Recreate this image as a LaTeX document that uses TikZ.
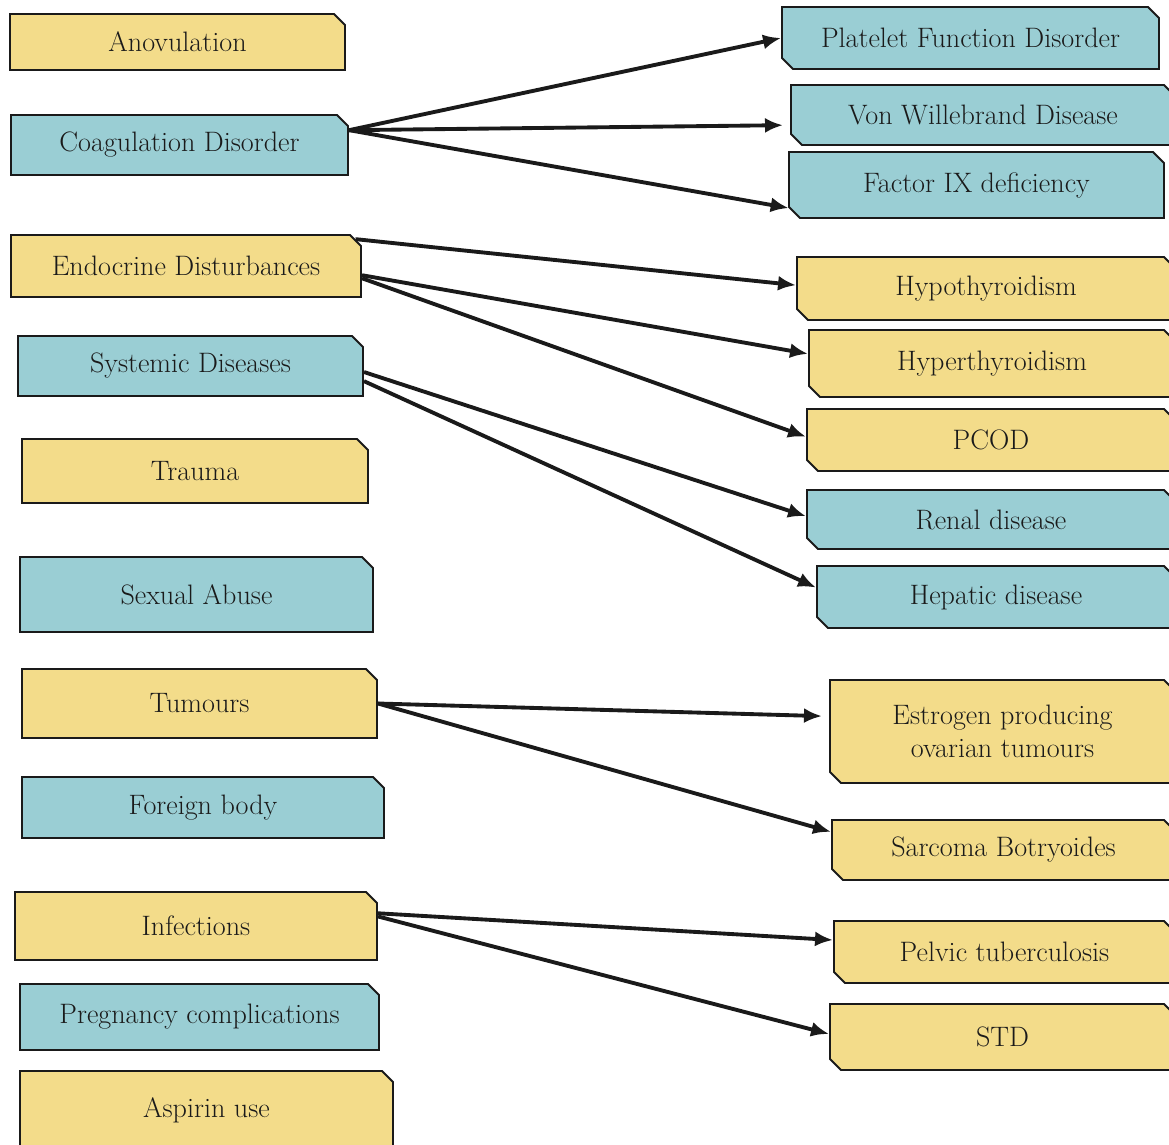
\documentclass[tikz,border=0pt]{standalone}
\usepackage{tikz}
\usetikzlibrary{arrows.meta,shapes.misc}
\definecolor{sand}{HTML}{F3DC8A}
\definecolor{seafoam}{HTML}{9ACED4}
\definecolor{ink}{HTML}{1A1A1A}

\begin{document}
\begin{tikzpicture}[
    x=0.02cm, y=-0.02cm,
    >={Latex[length=0.36cm,width=0.3cm]},
    font=\fontsize{16}{19}\selectfont,
    cause/.style={
		chamfered rectangle,
		chamfered rectangle corners={north east},
		chamfered rectangle xsep=0.11cm,
		chamfered rectangle ysep=0.11cm,
		draw=ink,
		line width=1.1pt,
		text=ink,
		inner sep=0pt,
		align=center
	},
	subcause/.style={
		cause,
		chamfered rectangle corners={north east,south west}
	},
	warm/.style={fill=sand},
	cool/.style={fill=seafoam},
	link/.style={->, draw=ink, line width=2.2pt}
  ]
  \useasboundingbox (0,0) rectangle (1169,1145);

    % We start by placing the causes on the left
  \node [cause, warm, minimum width=335*0.02cm, minimum height=56*0.02cm] (anovulation) at (177.5,42) {Anovulation};
  \node [cause, cool, minimum width=337*0.02cm, minimum height=60*0.02cm] (coagulation) at (179.5,145) {Coagulation Disorder};
  \node [cause, warm, minimum width=350*0.02cm, minimum height=62*0.02cm] (endocrine) at (186,266) {Endocrine Disturbances};
  \node [cause, cool, minimum width=345*0.02cm, minimum height=60*0.02cm] (systemic) at (190.5,366) {Systemic Diseases};
  \node [cause, warm, minimum width=346*0.02cm, minimum height=64*0.02cm] (trauma) at (195,471) {Trauma};
  \node [cause, cool, minimum width=353*0.02cm, minimum height=75*0.02cm] (abuse) at (196.5,594.5) {Sexual Abuse};
  \node [cause, warm, minimum width=355*0.02cm, minimum height=69*0.02cm] (tumours) at (199.5,703.5) {Tumours};
  \node [cause, cool, minimum width=362*0.02cm, minimum height=61*0.02cm] (foreign) at (203,807.5) {Foreign body};
  \node [cause, warm, minimum width=362*0.02cm, minimum height=68*0.02cm] (infections) at (196,926) {Infections};
  \node [cause, cool, minimum width=359*0.02cm, minimum height=66*0.02cm] (pregnancy) at (199.5,1017) {Pregnancy complications};
  \node [cause, warm, minimum width=373*0.02cm, minimum height=78*0.02cm] (aspirin) at (206.5,1110) {Aspirin use};

    % then the sub-causes on the right
  \node [subcause, cool, minimum width=377*0.02cm, minimum height=62*0.02cm] (platelet) at (970.5,38) {Platelet Function Disorder};
  \node [subcause, cool, minimum width=384*0.02cm, minimum height=60*0.02cm] (willebrand) at (983,115) {Von Willebrand Disease};
  \node [subcause, cool, minimum width=375*0.02cm, minimum height=66*0.02cm] (factorix) at (976.5,185) {Factor IX deficiency};
  \node [subcause, warm, minimum width=378*0.02cm, minimum height=63*0.02cm] (hypo) at (986,288.5) {Hypothyroidism};
  \node [subcause, warm, minimum width=366*0.02cm, minimum height=67*0.02cm] (hyper) at (992,363.5) {Hyperthyroidism};
  \node [subcause, warm, minimum width=368*0.02cm, minimum height=62*0.02cm] (pcod) at (991,440) {PCOD};
  \node [subcause, cool, minimum width=368*0.02cm, minimum height=59*0.02cm] (renal) at (991,519.5) {Renal disease};
  \node [subcause, cool, minimum width=358*0.02cm, minimum height=62*0.02cm] (hepatic) at (996,597) {Hepatic disease};
  \node [subcause, warm, minimum width=345*0.02cm, minimum height=103*0.02cm] (estrogen) at (1002.5,731.5) {Estrogen producing\\ovarian tumours};
  \node [subcause, warm, minimum width=343*0.02cm, minimum height=60*0.02cm] (sarcoma) at (1003.5,850) {Sarcoma Botryoides};
  \node [subcause, warm, minimum width=341*0.02cm, minimum height=62*0.02cm] (pelvic) at (1004.5,952) {Pelvic tuberculosis};
  \node [subcause, warm, minimum width=345*0.02cm, minimum height=66*0.02cm] (std) at (1002.5,1037) {STD};

 \draw [link] (coagulation.5) -- (platelet.west);
 \draw [link, shorten >=7*0.02cm] (coagulation.5) -- (willebrand.183);
 \draw [link] (coagulation.5) -- (factorix.187);
 \draw [link] (endocrine.9) -- (hypo.179);
 \draw [link] (endocrine.-3) -- (hyper.177);
 \draw [link] (endocrine.-4) -- (pcod.179);
 \draw [link] (systemic.-2) -- (renal.179);
 \draw [link] (systemic.-5) -- (hepatic.177);
 \draw [link, shorten >=7*0.02cm] (tumours.east) -- (estrogen.175);
 \draw [link] (tumours.east) -- (sarcoma.174);
 \draw [link] (infections.4) -- (pelvic.176);
 \draw [link] (infections.3) -- (std.179);

\end{tikzpicture}
\end{document}
